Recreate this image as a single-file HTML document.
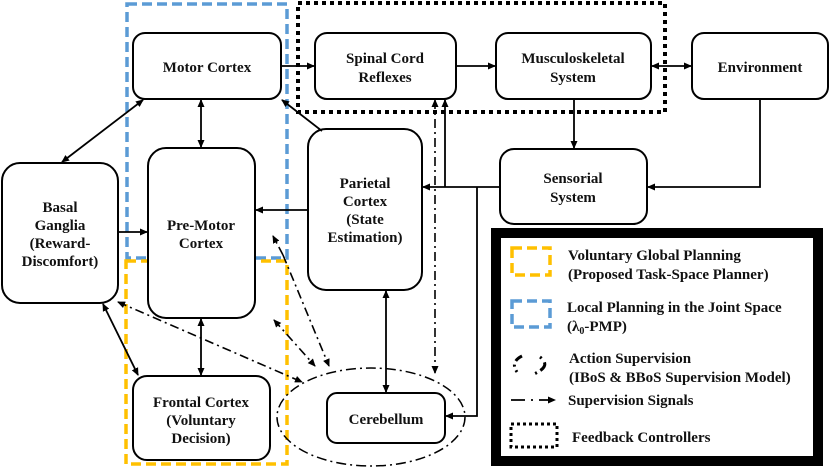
<!DOCTYPE html>
<html><head><meta charset="utf-8"><style>
body{margin:0;background:#fff}
svg{display:block}
text{font-family:"Liberation Serif",serif;font-weight:bold;font-size:15px;fill:#111}
</style></head><body>
<svg width="830" height="468" viewBox="0 0 830 468" xmlns="http://www.w3.org/2000/svg">
<defs>
<marker id="a" markerWidth="8" markerHeight="8" refX="7" refY="4" orient="auto-start-reverse" markerUnits="userSpaceOnUse"><path d="M0,0.5 L8,4 L0,7.5 z" fill="#000"/></marker>
</defs>
<rect x="127" y="4" width="160" height="254" fill="none" stroke="#5b9bd5" stroke-width="3.5" stroke-dasharray="10,5"/>
<rect x="126" y="261" width="161" height="203" fill="none" stroke="#ffc000" stroke-width="3.5" stroke-dasharray="10,5"/>
<rect x="298" y="3" width="367" height="109" fill="none" stroke="#000" stroke-width="4" stroke-dasharray="4,4"/>
<ellipse cx="371" cy="417" rx="94" ry="49" fill="none" stroke="#000" stroke-width="1.5" stroke-dasharray="10,4,2,4"/>
<g fill="#fff" stroke="#000" stroke-width="2">
<rect x="133" y="33" width="148" height="66" rx="12"/>
<rect x="315" y="33" width="141" height="66" rx="12"/>
<rect x="496" y="33" width="155" height="66" rx="12"/>
<rect x="692" y="33" width="136" height="66" rx="12"/>
<rect x="500" y="149" width="147" height="75" rx="14"/>
<rect x="308" y="129" width="114" height="161" rx="18"/>
<rect x="148" y="148" width="107" height="170" rx="18"/>
<rect x="2" y="163" width="116" height="140" rx="18"/>
<rect x="133" y="376" width="137" height="84" rx="14"/>
<rect x="327" y="393" width="118" height="50" rx="10"/>
</g>
<g text-anchor="middle">
<text x="207" y="72">Motor Cortex</text>
<text x="385" y="63">Spinal Cord</text><text x="385" y="82">Reflexes</text>
<text x="573" y="63">Musculoskeletal</text><text x="573" y="82">System</text>
<text x="760" y="72">Environment</text>
<text x="573" y="183">Sensorial</text><text x="573" y="202">System</text>
<text x="365" y="188">Parietal</text><text x="365" y="206">Cortex</text><text x="365" y="224">(State</text><text x="365" y="242">Estimation)</text>
<text x="201" y="230">Pre-Motor</text><text x="201" y="248">Cortex</text>
<text x="60" y="212">Basal</text><text x="60" y="230">Ganglia</text><text x="60" y="248">(Reward-</text><text x="60" y="266">Discomfort)</text>
<text x="201" y="407">Frontal Cortex</text><text x="201" y="425">(Voluntary</text><text x="201" y="443">Decision)</text>
<text x="386" y="424">Cerebellum</text>
</g>
<g stroke="#000" stroke-width="1.8" fill="none">
<line x1="281" y1="66" x2="314" y2="66" marker-end="url(#a)"/>
<line x1="456" y1="66" x2="495" y2="66" marker-end="url(#a)"/>
<line x1="652" y1="66" x2="691" y2="66" marker-start="url(#a)" marker-end="url(#a)"/>
<line x1="574" y1="99" x2="574" y2="148" marker-end="url(#a)"/>
<polyline points="760,99 760,187 648,187" marker-end="url(#a)"/>
<line x1="500" y1="187" x2="423" y2="187" marker-end="url(#a)"/>
<line x1="445" y1="187" x2="445" y2="100" marker-end="url(#a)"/>
<polyline points="477,187 477,416 446,416" marker-end="url(#a)"/>
<line x1="322" y1="131" x2="282" y2="100" marker-end="url(#a)"/>
<line x1="308" y1="210" x2="256" y2="210" marker-end="url(#a)"/>
<line x1="201" y1="100" x2="201" y2="147" marker-start="url(#a)" marker-end="url(#a)"/>
<line x1="62" y1="162" x2="143" y2="100" marker-start="url(#a)" marker-end="url(#a)"/>
<line x1="118" y1="232" x2="147" y2="232" marker-end="url(#a)"/>
<line x1="201" y1="319" x2="201" y2="375" marker-start="url(#a)" marker-end="url(#a)"/>
<line x1="103" y1="304" x2="138" y2="375" marker-start="url(#a)" marker-end="url(#a)"/>
<line x1="386" y1="291" x2="386" y2="392" marker-start="url(#a)" marker-end="url(#a)"/>
</g>
<g stroke="#000" stroke-width="1.6" fill="none" stroke-dasharray="9,4,2,4">
<line x1="435" y1="100" x2="435" y2="373" marker-start="url(#a)" marker-end="url(#a)"/>
<line x1="118" y1="302" x2="302" y2="382" marker-start="url(#a)" marker-end="url(#a)"/>
<line x1="274" y1="320" x2="315" y2="366" marker-start="url(#a)" marker-end="url(#a)"/>
<line x1="283" y1="255" x2="329" y2="366" marker-end="url(#a)"/>
<line x1="283" y1="255" x2="273" y2="236" marker-end="url(#a)"/>
</g>
<rect x="496" y="233" width="322" height="228" fill="#fff" stroke="#000" stroke-width="10"/>
<rect x="512" y="248" width="38" height="27" fill="none" stroke="#ffc000" stroke-width="3.5" stroke-dasharray="10,5"/>
<rect x="512" y="301" width="38" height="26" fill="none" stroke="#5b9bd5" stroke-width="3.5" stroke-dasharray="10,5"/>
<path d="M522,356 Q510,362 517,372" fill="none" stroke="#000" stroke-width="3" stroke-dasharray="8,4,2,4"/>
<path d="M540,357 Q552,366 534,374" fill="none" stroke="#000" stroke-width="3" stroke-dasharray="2,5,10,4"/>
<line x1="511" y1="400" x2="555" y2="400" stroke="#000" stroke-width="1.8" stroke-dasharray="14,6,2,6" marker-end="url(#a)"/>
<rect x="511" y="424" width="46" height="23" fill="none" stroke="#000" stroke-width="3" stroke-dasharray="3,3"/>
<text x="568" y="260">Voluntary  Global Planning</text>
<text x="568" y="279">(Proposed Task-Space Planner)</text>
<text x="567" y="312">Local Planning in the Joint Space</text>
<text x="567" y="331">(λ<tspan font-size="10" dy="3">0</tspan><tspan dy="-3">-PMP)</tspan></text>
<text x="569" y="363">Action Supervision</text>
<text x="569" y="382">(IBoS &amp; BBoS Supervision Model)</text>
<text x="568" y="405">Supervision  Signals</text>
<text x="572" y="442">Feedback Controllers</text>
</svg>
</body></html>
